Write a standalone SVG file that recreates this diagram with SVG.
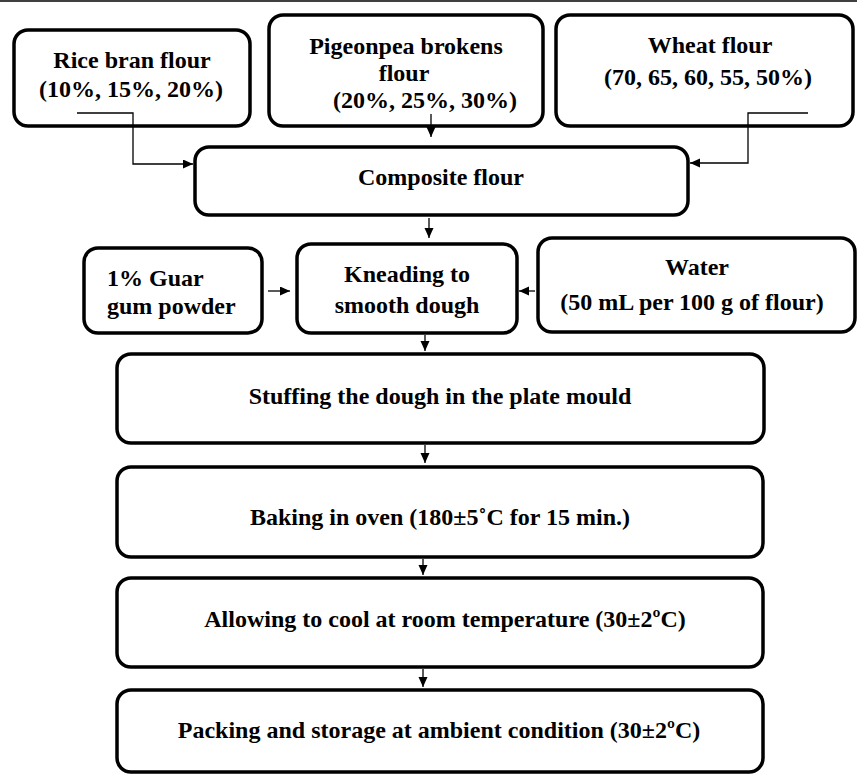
<svg xmlns="http://www.w3.org/2000/svg" width="857" height="776" viewBox="0 0 857 776">
<style>
.box{fill:#fff;stroke:#000;stroke-width:3.5}
.t{font-family:"Liberation Serif","Times New Roman",serif;font-weight:bold;font-size:24px;fill:#000}
.c{text-anchor:middle}
.con{fill:none;stroke:#000;stroke-width:1.3}
</style>
<defs>
<marker id="ah" markerUnits="userSpaceOnUse" markerWidth="10" markerHeight="10" refX="10" refY="4.5" orient="auto">
<path d="M0,0 L10,4.5 L0,9 Z" fill="#000"/>
</marker>
</defs>
<rect x="0" y="0" width="857" height="776" fill="#fff"/>
<line x1="0" y1="1" x2="857" y2="1" stroke="#000" stroke-width="1.5"/>
<g id="rice">
<rect class="box" x="14" y="30" width="236" height="96" rx="14"/>
<text class="t c" x="132" y="68">Rice bran flour</text>
<text class="t c" x="131" y="97">(10%, 15%, 20%)</text>
</g>
<g id="pigeonpea">
<rect class="box" x="269" y="15" width="274" height="111" rx="14"/>
<text class="t c" x="406" y="54">Pigeonpea brokens</text>
<text class="t c" x="404" y="81">flour</text>
<text class="t c" x="425" y="108">(20%, 25%, 30%)</text>
</g>
<g id="wheat">
<rect class="box" x="556" y="15" width="297" height="111" rx="14"/>
<text class="t c" x="710" y="53">Wheat flour</text>
<text class="t c" x="708" y="85">(70, 65, 60, 55, 50%)</text>
</g>
<g id="composite">
<rect class="box" x="195" y="147" width="493" height="68" rx="14"/>
<text class="t c" x="441" y="185">Composite flour</text>
</g>
<g id="guar">
<rect class="box" x="84" y="248" width="178" height="85" rx="14"/>
<text class="t" x="107" y="286">1% Guar</text>
<text class="t" x="107" y="314">gum powder</text>
</g>
<g id="kneading">
<rect class="box" x="297" y="244" width="220" height="89" rx="14"/>
<text class="t c" x="407" y="282">Kneading to</text>
<text class="t c" x="407" y="313">smooth dough</text>
</g>
<g id="water">
<rect class="box" x="538" y="238" width="317" height="94" rx="14"/>
<text class="t c" x="697" y="275">Water</text>
<text class="t c" x="692" y="310">(50 mL per 100 g of flour)</text>
</g>
<g id="stuffing">
<rect class="box" x="117" y="354" width="647" height="89" rx="14"/>
<text class="t c" x="440" y="404">Stuffing the dough in the plate mould</text>
</g>
<g id="baking">
<rect class="box" x="117" y="467" width="646" height="90" rx="14"/>
<text class="t c" x="440" y="525">Baking in oven (180±5˚C for 15 min.)</text>
</g>
<g id="cooling">
<rect class="box" x="117" y="578" width="646" height="89" rx="14"/>
<text class="t c" x="445" y="627">Allowing to cool at room temperature (30±2ºC)</text>
</g>
<g id="packing">
<rect class="box" x="117" y="690" width="646" height="82" rx="14"/>
<text class="t c" x="439" y="738">Packing and storage at ambient condition (30±2ºC)</text>
</g>
<g id="connectors">
<polyline class="con" points="77,113 133,113 133,164 193,164" marker-end="url(#ah)"/>
<polyline class="con" points="431,114 431,137" marker-end="url(#ah)"/>
<polyline class="con" points="808,113 748,113 748,163 690,163" marker-end="url(#ah)"/>
<polyline class="con" points="429,218 429,238" marker-end="url(#ah)"/>
<polyline class="con" points="268,291 290,291" marker-end="url(#ah)"/>
<polyline class="con" points="535,291 519,291" marker-end="url(#ah)"/>
<polyline class="con" points="425,335 425,351" marker-end="url(#ah)"/>
<polyline class="con" points="425,445 425,463" marker-end="url(#ah)"/>
<polyline class="con" points="423,559 423,575" marker-end="url(#ah)"/>
<polyline class="con" points="423,669 423,687" marker-end="url(#ah)"/>
</g>
</svg>
